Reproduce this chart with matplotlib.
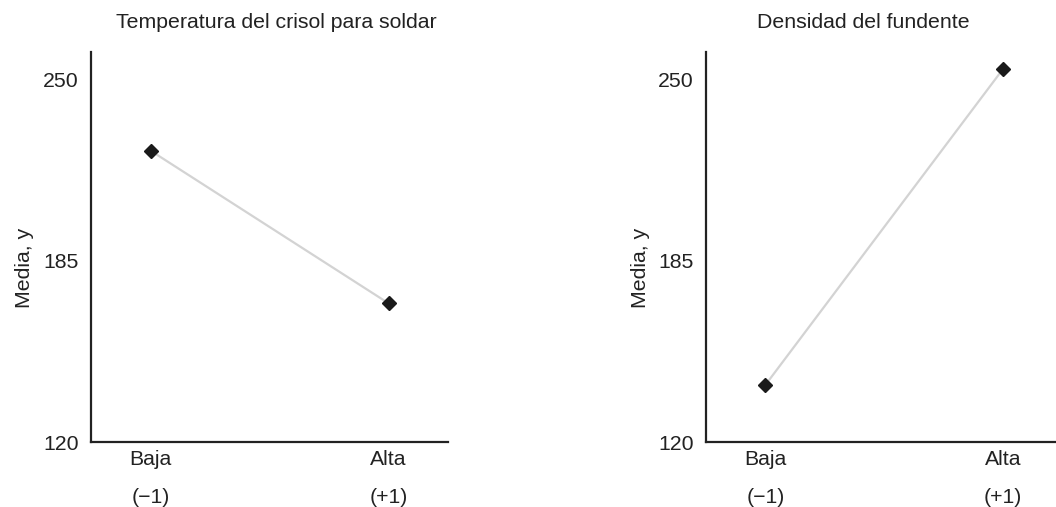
import matplotlib.pyplot as plt

# data
niveles = [-1, 1]
niveles_txt = ["Baja\n(\u22121)", "Alta\n(+1)"]
temp_crisol = [224.6, 169.8]
dens_fundente = [140.5, 254.0]
y_ticks = [120, 185, 250]
titulos = ["Temperatura del crisol para soldar", "Densidad del fundente"]
y_label = "Media, y"

plt.rcParams['font.family'] = ['Liberation Sans', 'DejaVu Sans']
plt.rcParams['font.size'] = 15.3


def panel(ax, medias, x_right):
    ax.plot(niveles, medias, color='#d3d3d3', lw=1.6, zorder=2)
    ax.plot(niveles, medias, ls='none', marker='D', ms=6.8, color='#1a1a1a', zorder=3)
    ax.set_xlim(-1.5, x_right)
    ax.set_ylim(120, 260)
    ax.set_yticks(y_ticks)
    ax.set_xticks(niveles)
    ax.set_xticklabels(niveles_txt, linespacing=2.25, color='#222222')
    ax.tick_params(length=0, pad=9, colors='#222222')
    ax.tick_params(axis='x', pad=6)
    for s in ['top', 'right']:
        ax.spines[s].set_visible(False)
    for s in ['left', 'bottom']:
        ax.spines[s].set_linewidth(1.6)
        ax.spines[s].set_color('#222222')
    ax.set_ylabel(y_label, color='#222222')
    ax.yaxis.set_label_coords(-0.16, 0.447)


def main():
    fig = plt.figure(figsize=(10.56, 5.07), dpi=100)
    W, H = 1056, 507
    ax1 = fig.add_axes([91 / W, 1 - 442 / H, 357 / W, 390 / H])
    ax2 = fig.add_axes([706 / W, 1 - 442 / H, 350 / W, 390 / H])
    panel(ax1, temp_crisol, 1.5)
    panel(ax2, dens_fundente, 1.444)

    fig.text(276 / W, 1 - 22 / H, titulos[0], ha='center', va='center', color='#222222')
    fig.text(863 / W, 1 - 22 / H, titulos[1], ha='center', va='center', color='#222222')

    fig.savefig('out.png', dpi=100)


if __name__ == '__main__':
    main()
